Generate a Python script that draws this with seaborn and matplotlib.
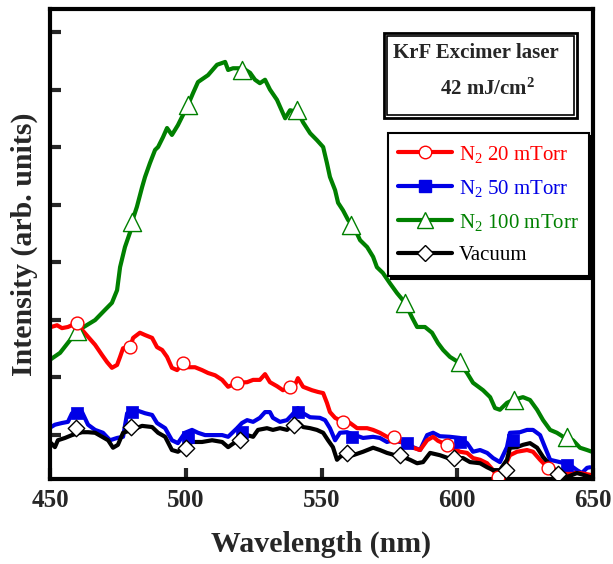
import numpy as np
import pandas as pd
import matplotlib
matplotlib.use("Agg")
import matplotlib.pyplot as plt
from matplotlib.lines import Line2D
from matplotlib.patches import Rectangle
import seaborn as sns

# ---- spectra (wavelength in nm, intensity in arbitrary units) ----
wl_100 = [450.0, 453.7, 460.0, 466.6, 470.3, 472.8, 474.7, 475.8, 477.6, 479.5, 480.2, 482.0,
          483.9, 485.0, 486.8, 488.7, 489.8, 491.6, 493.1, 494.9, 497.1, 499.0, 500.8, 502.7,
          504.5, 508.2, 511.5, 514.5, 515.6, 517.4, 521.1, 523.7, 525.5, 527.3, 529.2, 531.0,
          533.6, 536.6, 538.4, 541.3, 543.2, 545.8, 548.3, 550.6, 552.0, 553.1, 555.0, 556.1,
          557.9, 559.8, 561.6, 564.2, 566.8, 569.0, 570.4, 572.6, 575.2, 577.8, 580.8, 583.3,
          585.2, 588.1, 590.7, 592.9, 594.8, 597.3, 601.0, 603.6, 605.8, 609.5, 612.1, 613.9,
          615.7, 618.3, 620.5, 624.2, 626.8, 629.4, 631.6, 634.2, 636.7, 639.7, 642.6, 645.2,
          647.8, 649.6]
int_100 = [1.30, 1.42, 1.80, 1.99, 2.17, 2.29, 2.51, 2.91, 3.26, 3.52, 3.70, 3.96,
           4.30, 4.48, 4.72, 4.95, 5.00, 5.17, 5.33, 5.21, 5.38, 5.56, 5.73, 5.94,
           6.13, 6.25, 6.43, 6.48, 6.34, 6.37, 6.37, 6.29, 6.17, 6.11, 6.17, 6.00,
           5.82, 5.50, 5.64, 5.61, 5.43, 5.24, 5.12, 5.00, 4.72, 4.48, 4.25, 4.03,
           3.90, 3.73, 3.64, 3.38, 3.26, 3.09, 2.91, 2.81, 2.63, 2.46, 2.29, 2.04,
           1.87, 1.87, 1.77, 1.59, 1.47, 1.35, 1.24, 1.07, 0.90, 0.77, 0.65, 0.46,
           0.43, 0.55, 0.60, 0.65, 0.60, 0.43, 0.25, 0.08, 0.03, -0.06, -0.10, -0.23,
           -0.27, -0.30]

wl_20 = [450.4, 452.6, 454.4, 456.6, 459.9, 461.8, 464.0, 466.6, 469.2, 471.0, 472.8, 474.7,
         475.8, 476.9, 479.5, 480.6, 483.1, 485.0, 487.6, 489.4, 491.3, 493.1, 494.9, 496.8,
         499.0, 500.8, 503.4, 506.0, 508.2, 510.8, 513.4, 515.6, 518.9, 522.6, 524.8, 527.3,
         529.2, 531.0, 533.6, 535.8, 538.4, 540.2, 541.3, 543.2, 546.5, 548.7, 550.6, 552.0,
         553.1, 555.0, 557.9, 560.5, 563.1, 566.8, 569.0, 571.5, 574.1, 576.7, 580.0, 583.7,
         586.3, 588.9, 591.1, 592.9, 596.2, 601.0, 603.6, 605.8, 608.4, 611.0, 613.2, 615.0,
         616.5, 619.4, 622.0, 625.7, 627.9, 630.5, 633.4, 635.3, 638.9, 642.6, 645.2, 648.9]
int_20 = [1.87, 1.90, 1.85, 1.87, 1.94, 1.82, 1.70, 1.56, 1.38, 1.26, 1.16, 1.21,
          1.35, 1.50, 1.52, 1.68, 1.77, 1.73, 1.68, 1.52, 1.47, 1.35, 1.16, 1.12,
          1.24, 1.17, 1.17, 1.12, 1.07, 1.03, 0.95, 0.83, 0.90, 0.91, 0.95, 0.95,
          1.05, 0.91, 0.84, 0.77, 0.83, 0.86, 0.98, 0.83, 0.77, 0.74, 0.72, 0.55,
          0.39, 0.29, 0.22, 0.20, 0.11, 0.11, 0.08, 0.03, -0.04, -0.04, -0.15, -0.23,
          -0.27, -0.10, -0.04, -0.11, -0.18, -0.30, -0.32, -0.41, -0.44, -0.50, -0.62, -0.74,
          -0.65, -0.36, -0.30, -0.27, -0.30, -0.44, -0.58, -0.65, -0.67, -0.67, -0.67, -0.70]

wl_50 = [450.4, 451.8, 454.4, 456.6, 458.1, 461.8, 464.0, 466.6, 469.5, 472.1, 474.7, 476.9,
         478.4, 481.3, 485.0, 487.6, 489.4, 492.4, 494.9, 497.1, 499.7, 502.3, 504.5, 507.1,
         509.7, 513.4, 515.6, 518.9, 520.7, 522.6, 524.8, 527.3, 529.2, 531.0, 532.1, 534.7,
         537.3, 539.1, 541.3, 543.2, 545.8, 549.4, 551.3, 553.1, 555.0, 556.8, 559.4, 562.3,
         565.3, 569.0, 571.5, 574.1, 576.3, 578.9, 581.9, 583.7, 586.3, 588.9, 591.1, 593.6,
         597.3, 601.0, 603.6, 605.8, 608.4, 611.0, 613.2, 615.7, 618.3, 619.4, 623.1, 625.7,
         627.9, 630.5, 632.3, 634.2, 637.8, 641.5, 644.1, 645.9, 647.8, 648.9]
int_50 = [0.13, 0.17, 0.20, 0.22, 0.37, 0.39, 0.17, 0.08, 0.03, -0.10, -0.06, -0.04,
          0.37, 0.43, 0.37, 0.34, 0.20, 0.11, -0.10, -0.15, 0.03, 0.08, 0.03, -0.01,
          -0.01, -0.01, -0.04, 0.11, 0.20, 0.25, 0.22, 0.29, 0.39, 0.39, 0.29, 0.22,
          0.25, 0.34, 0.46, 0.37, 0.30, 0.29, 0.25, 0.11, -0.10, 0.03, 0.04, -0.01,
          -0.06, -0.04, -0.06, -0.13, -0.10, -0.13, -0.15, -0.22, -0.27, -0.01, 0.03, -0.03,
          -0.04, -0.06, -0.15, -0.30, -0.27, -0.32, -0.41, -0.48, -0.22, 0.03, 0.04, 0.08,
          0.08, -0.01, -0.22, -0.44, -0.48, -0.53, -0.62, -0.67, -0.58, -0.57]

wl_vac = [450.4, 451.8, 452.9, 455.5, 458.1, 461.8, 464.0, 466.6, 469.2, 471.4, 473.2, 475.0,
          476.9, 480.2, 483.9, 487.6, 489.8, 492.4, 494.9, 497.1, 499.7, 502.3, 506.0, 509.7,
          513.4, 515.6, 519.2, 521.8, 522.6, 524.8, 526.6, 529.9, 532.1, 534.7, 537.3, 539.5,
          541.3, 543.2, 545.8, 548.3, 550.6, 552.4, 554.2, 555.7, 556.8, 559.4, 561.6, 565.3,
          569.0, 571.5, 574.1, 577.1, 580.0, 582.6, 585.2, 587.4, 590.0, 593.6, 596.6, 599.9,
          602.1, 604.7, 608.4, 611.0, 613.2, 615.7, 618.3, 619.4, 622.0, 624.2, 626.8, 629.4,
          631.6, 634.2, 637.1, 640.4, 644.1, 646.3, 648.9]
int_vac = [-0.15, -0.22, -0.10, -0.06, -0.01, 0.04, 0.04, 0.03, -0.04, -0.10, -0.23, -0.18,
           0.03, 0.08, 0.15, 0.13, 0.03, -0.04, -0.27, -0.30, -0.22, -0.13, -0.13, -0.10,
           -0.13, -0.22, -0.10, -0.06, -0.01, -0.04, 0.08, 0.11, 0.08, 0.11, 0.08, 0.17,
           0.22, 0.13, 0.11, 0.08, 0.03, -0.10, -0.22, -0.44, -0.39, -0.32, -0.36, -0.30,
           -0.23, -0.27, -0.32, -0.36, -0.39, -0.44, -0.50, -0.48, -0.32, -0.36, -0.41, -0.41,
           -0.41, -0.48, -0.50, -0.57, -0.62, -0.62, -0.44, -0.23, -0.22, -0.18, -0.15, -0.23,
           -0.39, -0.53, -0.67, -0.74, -0.67, -0.70, -0.74]

# ---- symbol positions along each spectrum ----
mk_wl_20 = [460.0, 479.5, 499.0, 518.9, 538.4, 557.9, 576.7, 596.2, 615.0, 633.4]
mk_int_20 = [1.94, 1.52, 1.24, 0.90, 0.83, 0.22, -0.04, -0.18, -0.74, -0.58]
mk_wl_50 = [460.0, 480.2, 500.8, 520.7, 541.3, 561.2, 581.5, 601.0, 620.5, 640.4]
mk_int_50 = [0.37, 0.39, -0.04, 0.04, 0.39, -0.04, -0.15, -0.13, -0.10, -0.53]
mk_wl_100 = [460.0, 480.2, 500.8, 520.7, 541.0, 560.9, 580.8, 601.0, 620.9, 640.4]
mk_int_100 = [1.80, 3.70, 5.73, 6.34, 5.64, 3.64, 2.29, 1.26, 0.60, -0.04]
mk_wl_vac = [459.6, 479.8, 500.1, 520.0, 539.9, 559.4, 578.9, 598.8, 618.0, 637.1]
mk_int_vac = [0.11, 0.13, -0.23, -0.10, 0.17, -0.32, -0.36, -0.41, -0.62, -0.69]

labels = [r"N$_2$ 20 mTorr", r"N$_2$ 50 mTorr", r"N$_2$ 100 mTorr", "Vacuum"]
x_ticks = [450, 500, 550, 600, 650]

sns.set_style("ticks")
plt.rcParams["font.family"] = ["Liberation Serif", "DejaVu Serif"]
plt.rcParams["mathtext.fontset"] = "custom"
plt.rcParams["mathtext.rm"] = "Liberation Serif"
plt.rcParams["mathtext.it"] = "Liberation Serif:italic"
plt.rcParams["mathtext.bf"] = "Liberation Serif:bold"

RED, BLUE, GREEN, BLACK = "#ff0000", "#0000e6", "#008000", "#000000"
LW = 3.0

fig = plt.figure(figsize=(6.13, 5.64), dpi=100)
ax = fig.add_axes([0.0816, 0.1507, 0.8858, 0.8333])

series = [
    (wl_100, int_100, GREEN),
    (wl_50, int_50, BLUE),
    (wl_20, int_20, RED),
    (wl_vac, int_vac, BLACK),
]
for wl, inten, col in series:
    df = pd.DataFrame({"wl": wl, "I": inten})
    sns.lineplot(data=df, x="wl", y="I", ax=ax, color=col, lw=LW,
                 estimator=None, sort=False, zorder=2)

# symbols
sns.scatterplot(x=mk_wl_100, y=mk_int_100, ax=ax, marker="^", s=170,
                color="white", edgecolor=GREEN, linewidth=1.0, zorder=4)
sns.scatterplot(x=mk_wl_50, y=mk_int_50, ax=ax, marker="s", s=75,
                color=BLUE, edgecolor=BLUE, linewidth=0.5, zorder=4)
sns.scatterplot(x=mk_wl_20, y=mk_int_20, ax=ax, marker="o", s=85,
                color="white", edgecolor=RED, linewidth=1.0, zorder=4)
sns.scatterplot(x=mk_wl_vac, y=mk_int_vac, ax=ax, marker="D", s=70,
                color="white", edgecolor=BLACK, linewidth=1.0, zorder=4)

ax.set_xlim(450, 650)
ax.set_ylim(-0.774, 7.40)
ax.set_xticks(x_ticks)
ax.set_yticks(range(8))
ax.set_yticklabels([])
ax.tick_params(axis="both", direction="in", length=8, width=3, labelsize=18, pad=7)
ax.tick_params(top=False, right=False)
for lbl in ax.get_xticklabels():
    lbl.set_fontweight("bold")
for sp in ax.spines.values():
    sp.set_linewidth(3)
    sp.set_color("black")

ax.set_xlabel("Wavelength (nm)", fontsize=21.5, fontweight="bold", labelpad=14)
ax.set_ylabel("Intensity (arb. units)", fontsize=21.5, fontweight="bold", labelpad=2)

# legend
handles = [
    Line2D([], [], color=RED, lw=LW, marker="o", ms=9, mfc="white", mec=RED, mew=1.0),
    Line2D([], [], color=BLUE, lw=LW, marker="s", ms=8.5, mfc=BLUE, mec=BLUE),
    Line2D([], [], color=GREEN, lw=LW, marker="^", ms=12, mfc="white", mec=GREEN, mew=1.0),
    Line2D([], [], color=BLACK, lw=LW, marker="D", ms=8, mfc="white", mec=BLACK, mew=1.0),
]
leg = ax.legend(handles, labels, loc="upper left", bbox_to_anchor=(0.622, 0.736),
                fontsize=15, frameon=True, fancybox=False, borderaxespad=0,
                handlelength=2.6, handletextpad=0.3, labelspacing=0.63, borderpad=0.5,
                shadow={"color": "black", "alpha": 1.0})
leg.get_frame().set_edgecolor("black")
leg.get_frame().set_linewidth(1.5)
leg.get_frame().set_alpha(1.0)
for txt, col in zip(leg.get_texts(), [RED, BLUE, GREEN, BLACK]):
    txt.set_color(col)

# annotation box with double border
ax.add_patch(Rectangle((0.615, 0.768), 0.3555, 0.181, transform=ax.transAxes,
                       fill=True, facecolor="white", edgecolor="black", lw=2, zorder=5))
ax.add_patch(Rectangle((0.621, 0.775), 0.3435, 0.167, transform=ax.transAxes,
                       fill=False, edgecolor="black", lw=1.2, zorder=6))
ax.text(0.632, 0.906, "KrF Excimer laser", transform=ax.transAxes, fontsize=15,
        fontweight="bold", ha="left", va="center", zorder=7)
ax.text(0.718, 0.830, r"42 mJ/cm$^{\mathbf{2}}$", transform=ax.transAxes, fontsize=15,
        fontweight="bold", ha="left", va="center", zorder=7)

fig.savefig("out.png", dpi=100)
